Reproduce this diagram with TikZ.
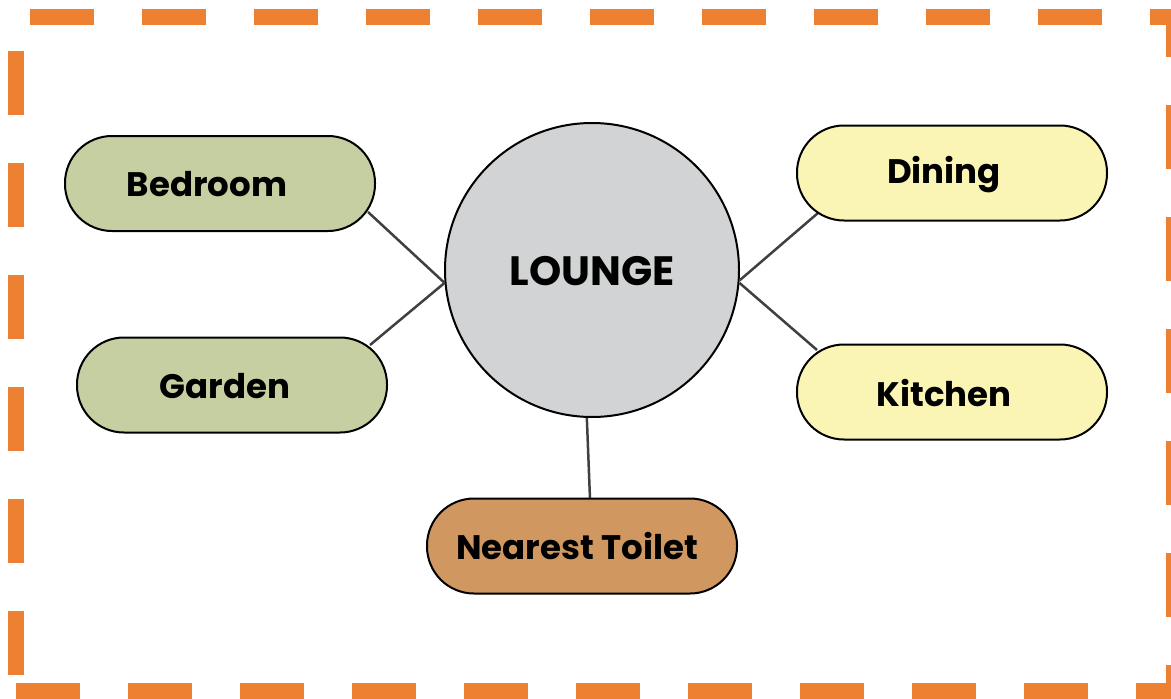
\documentclass[tikz,border=0pt]{standalone}
\usepackage{fontspec}
\setmainfont{Poppins}
\usetikzlibrary{calc}
\definecolor{frameorange}{RGB}{238,128,50}
\definecolor{sage}{RGB}{197,207,162}
\definecolor{butter}{RGB}{250,245,181}
\definecolor{clay}{RGB}{209,151,96}
\definecolor{stone}{RGB}{209,211,212}
\definecolor{wire}{RGB}{64,64,64}
\tikzset{
  room/.style={draw=black, line width=2pt, rectangle, rounded corners=47pt,
    minimum width=310pt, minimum height=95pt, inner sep=0pt},
  lbl/.style={font=\bfseries\fontsize{34}{40}\selectfont, inner sep=0pt},
  link/.style={draw=wire, line width=2.5pt},
}
\begin{document}
\begin{tikzpicture}[x=1pt, y=-1pt]
\useasboundingbox (0,0) rectangle (1171,699);
% dashed frame
\begin{scope}
  \clip (0,0) rectangle (1171,699);
  \draw[frameorange, line width=16pt, line join=miter,
        dash pattern=on 64pt off 48pt, dash phase=96pt]
    (16,691) -- (16,17) -- (1174,17) -- (1174,691) -- cycle;
\end{scope}

% hub and room boxes (shapes)
\node[circle, draw=black, line width=2pt, fill=stone, minimum size=294pt, inner sep=0pt] (lounge) at (592,270) {};
\path (220,183.5) coordinate (bedc) (232,385) coordinate (gardc)
      (952,173) coordinate (dinc) (952,392) coordinate (kitc) (582,546) coordinate (toic);

% connectors
\draw[link] (lounge.185) -- ($(bedc)+(148,28.5)$);
\draw[link] (lounge.185) -- ($(gardc)+(138,-40)$);
\draw[link] (lounge.356) -- ($(dinc)+(-134,40)$);
\draw[link] (lounge.355) -- ($(kitc)+(-135,-42)$);
\draw[link] (lounge.268.4) -- ($(toic)+(8,-47)$);

\node[room, fill=sage] (bed) at (bedc) {};
\node[room, fill=sage] (gard) at (gardc) {};
\node[room, fill=butter] (din) at (dinc) {};
\node[room, fill=butter] (kit) at (kitc) {};
\node[room, fill=clay] (toi) at (toic) {};

% labels
\node[lbl] at ([xshift=-13pt,yshift=-1pt]bed.center) {Bedroom};
\node[lbl] at ([xshift=-7pt,yshift=-1pt]gard.center) {Garden};
\node[lbl] at ([xshift=-8pt,yshift=-2pt]din.center) {Dining};
\node[lbl] at ([xshift=-8pt,yshift=-1pt]kit.center) {Kitchen};
\node[lbl] at ([xshift=-5pt]toi.center) {Nearest Toilet};
\node[lbl, font=\bfseries\fontsize{41}{48}\selectfont] at ([yshift=-1pt]lounge.center) {LOUNGE};
\end{tikzpicture}
\end{document}
